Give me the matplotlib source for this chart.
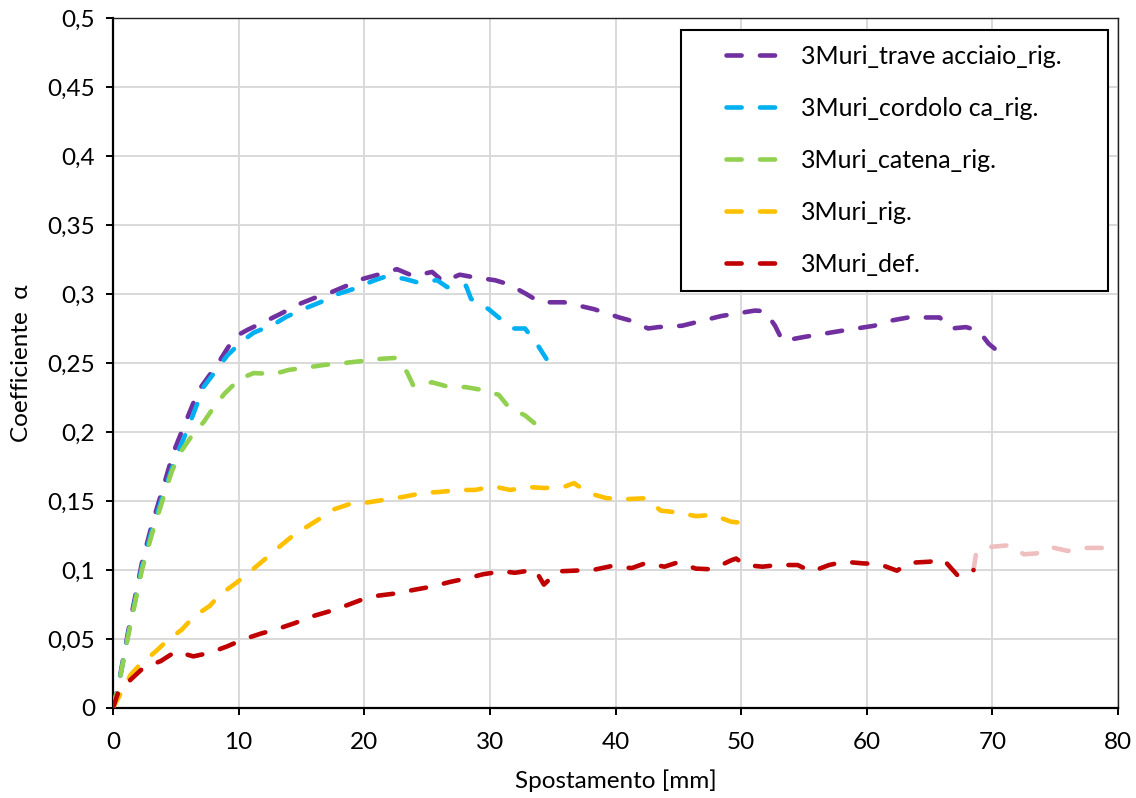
import matplotlib
matplotlib.use("Agg")
import matplotlib.pyplot as plt
from matplotlib.ticker import FuncFormatter
from matplotlib.legend_handler import HandlerLine2D

plt.rcParams['font.family'] = ['Lato', 'DejaVu Sans']

# --- data -------------------------------------------------------------
trave_x = [0, 0.5, 1.2, 2.3, 3.1, 4.0, 4.8, 5.5, 6.8, 8.3, 9.7, 10.7, 12.3, 13.2,
           14.9, 16.0, 17.3, 18.6, 19.9, 21.3, 22.6, 23.9, 25.4, 26.3, 27.6, 28.8,
           30.4, 31.5, 32.9, 34.0, 35.9, 38.3, 40.3, 41.1, 42.6, 43.4, 45.3, 48.4,
           51.1, 51.9, 52.7, 53.3, 55.1, 58.1, 60.6, 61.5, 63.3, 65.8, 66.7, 67.9,
           68.9, 69.7, 70.5]
trave_y = [0, 0.02, 0.055, 0.105, 0.133, 0.16, 0.185, 0.201, 0.23, 0.249, 0.269,
           0.274, 0.281, 0.285, 0.293, 0.297, 0.301, 0.306, 0.311, 0.3145, 0.318,
           0.313, 0.316, 0.309, 0.314, 0.312, 0.310, 0.307, 0.300, 0.294, 0.294,
           0.289, 0.283, 0.281, 0.275, 0.276, 0.277, 0.284, 0.288, 0.2875, 0.277,
           0.266, 0.269, 0.2735, 0.277, 0.28, 0.283, 0.283, 0.275, 0.276, 0.2735,
           0.264, 0.258]

cordolo_x = [0, 0.5, 1.2, 2.3, 3.1, 4.0, 5.0, 5.9, 7.2, 8.4, 9.1, 10.3, 11.2, 12.8,
             13.8, 15.4, 16.5, 17.9, 19.1, 20.7, 21.8, 23.2, 24.2, 25.8, 26.6, 28.1,
             28.5, 29.9, 30.7, 31.9, 32.8, 33.8, 34.5]
cordolo_y = [0, 0.019, 0.053, 0.102, 0.129, 0.155, 0.182, 0.201, 0.2325, 0.247,
             0.2555, 0.266, 0.272, 0.278, 0.2835, 0.290, 0.294, 0.300, 0.3035,
             0.3095, 0.313, 0.311, 0.3085, 0.310, 0.305, 0.306, 0.2965, 0.289,
             0.283, 0.275, 0.275, 0.263, 0.253]

catena_x = [0, 0.5, 1.2, 2.3, 3.1, 4.0, 4.7, 5.5, 6.4, 7.2, 8.1, 8.9, 10.1, 11.2,
            12.8, 14.0, 15.6, 16.9, 18.3, 19.7, 21.3, 22.5, 23.4, 23.9, 25.4, 26.6,
            28.1, 29.3, 30.7, 31.5, 32.8, 33.6, 34.0]
catena_y = [0, 0.019, 0.052, 0.1, 0.126, 0.152, 0.172, 0.187, 0.199, 0.207, 0.219,
            0.228, 0.2386, 0.2427, 0.242, 0.245, 0.247, 0.2487, 0.2499, 0.2513,
            0.253, 0.2537, 0.2434, 0.2337, 0.236, 0.233, 0.2325, 0.2306, 0.227,
            0.218, 0.212, 0.206, 0.203]

rig_x = [0, 0.7, 1.4, 2.1, 3.4, 4.1, 5.5, 6.4, 7.7, 8.5, 9.8, 10.8, 12.05, 13.0,
         14.2, 15.2, 16.6, 17.6, 19.1, 20.0, 21.7, 23.1, 24.8, 25.9, 27.6, 28.8,
         30.3, 31.6, 33.2, 34.4, 36.0, 36.7, 37.0, 38.3, 39.3, 41.0, 42.4, 43.6,
         44.95, 46.4, 47.7, 49.2, 49.7]
rig_y = [0, 0.012, 0.024, 0.031, 0.041, 0.047, 0.057, 0.066, 0.074, 0.082, 0.0906,
         0.098, 0.1075, 0.115, 0.124, 0.130, 0.138, 0.144, 0.1486, 0.1486, 0.151,
         0.153, 0.156, 0.1565, 0.158, 0.158, 0.1606, 0.158, 0.160, 0.1594, 0.1606,
         0.163, 0.161, 0.1546, 0.152, 0.1514, 0.152, 0.143, 0.1417, 0.139, 0.14,
         0.135, 0.1345]

def_x = [0, 0.4, 1.4, 2.4, 3.8, 5.0, 6.4, 7.7, 9.1, 10.3, 11.8, 13.0, 14.5, 15.7,
         17.2, 18.4, 19.8, 21.1, 22.5, 24.0, 25.4, 26.8, 28.2, 29.5, 31.0, 32.0,
         33.6, 34.3, 35.4, 36.7, 38.3, 39.6, 41.3, 42.4, 43.9, 44.95, 46.4, 47.7,
         49.2, 49.6, 50.3, 51.7, 52.9, 54.5, 55.6, 57.0, 58.2, 59.7, 61.0, 62.4,
         63.4, 65.0, 66.1, 67.2, 68.1, 68.5]
def_y = [0, 0.011, 0.0205, 0.029, 0.034, 0.041, 0.0374, 0.040, 0.0447, 0.0495,
         0.054, 0.057, 0.0616, 0.066, 0.070, 0.0737, 0.0785, 0.0814, 0.083,
         0.0857, 0.088, 0.0913, 0.094, 0.097, 0.099, 0.098, 0.1002, 0.0894, 0.099,
         0.0995, 0.1002, 0.1027, 0.1014, 0.105, 0.1024, 0.1055, 0.101, 0.1005,
         0.107, 0.1083, 0.1036, 0.1024, 0.1036, 0.1036, 0.0988, 0.1036, 0.106,
         0.1048, 0.1043, 0.0995, 0.1052, 0.106, 0.1076, 0.0964, 0.0964, 0.1]

# continuation of the deformable-floor curve
def_ext_x = [68.5, 68.7, 69.8, 71.4, 72.5, 73.5, 74.6, 76.0, 77.2, 78.8, 80.0]
def_ext_y = [0.1, 0.112, 0.1167, 0.118, 0.1114, 0.112, 0.1167, 0.1138, 0.116,
             0.116, 0.1148]

series = [
    ("3Muri_trave acciaio_rig.", trave_x, trave_y, "#7030A0"),
    ("3Muri_cordolo ca_rig.", cordolo_x, cordolo_y, "#00B0F0"),
    ("3Muri_catena_rig.", catena_x, catena_y, "#92D050"),
    ("3Muri_rig.", rig_x, rig_y, "#FFC000"),
    ("3Muri_def.", def_x, def_y, "#C00000"),
]

x_ticks = [0, 10, 20, 30, 40, 50, 60, 70, 80]
y_ticks = [0, 0.05, 0.1, 0.15, 0.2, 0.25, 0.3, 0.35, 0.4, 0.45, 0.5]

# --- figure -----------------------------------------------------------
fig = plt.figure(figsize=(11.36, 7.98), dpi=100)
ax = fig.add_axes([113 / 1136, 1 - 708 / 798, 1005 / 1136, 690 / 798])

dash = (3.3, 4.0)
lw = 3.3
handles = []
for label, xs, ys, color in series:
    ln, = ax.plot(xs, ys, color=color, lw=lw, dashes=dash,
                  dash_capstyle='round', solid_capstyle='round', label=label,
                  zorder=3)
    handles.append(ln)
ax.plot(def_ext_x, def_ext_y, color="#EFBFBF", lw=lw, dashes=dash,
        dash_capstyle='round', zorder=2)

ax.set_xlim(0, 80)
ax.set_ylim(0, 0.5)
ax.set_xticks(x_ticks)
ax.set_yticks(y_ticks)

def comma(v, pos):
    s = ("%.2f" % v).rstrip('0').rstrip('.')
    return s.replace('.', ',')

ax.yaxis.set_major_formatter(FuncFormatter(comma))
ax.xaxis.set_major_formatter(FuncFormatter(lambda v, p: "%d" % v))

ax.grid(True, color="#D9D9D9", lw=1.4, zorder=0)
ax.set_axisbelow(True)

for side in ("left", "bottom"):
    ax.spines[side].set_color("black")
    ax.spines[side].set_linewidth(1.6)
for side in ("top", "right"):
    ax.spines[side].set_color("#202020")
    ax.spines[side].set_linewidth(1.0)

ax.tick_params(axis='both', direction='out', length=5, width=1.4,
               labelsize=17.5, colors='black', pad=8)
ax.tick_params(axis='x', pad=12)

ax.set_xlabel("Spostamento [mm]", fontsize=17.5, labelpad=12)
ax.set_ylabel("Coefficiente  α", fontsize=17.5, labelpad=11)

leg = ax.legend(handles=handles, loc='upper left',
                bbox_to_anchor=(0.565, 0.3, 0.425, 0.683), mode='expand',
                borderaxespad=0, fontsize=18, frameon=True, fancybox=False,
                edgecolor='black', framealpha=1, borderpad=0.6,
                labelspacing=1.16, handlelength=3.5, handletextpad=0.7,
                handler_map={ln: HandlerLine2D(xpad=1.2) for ln in handles})
leg.get_frame().set_linewidth(1.5)
leg.set_zorder(5)

fig.savefig("out.png", dpi=100)
